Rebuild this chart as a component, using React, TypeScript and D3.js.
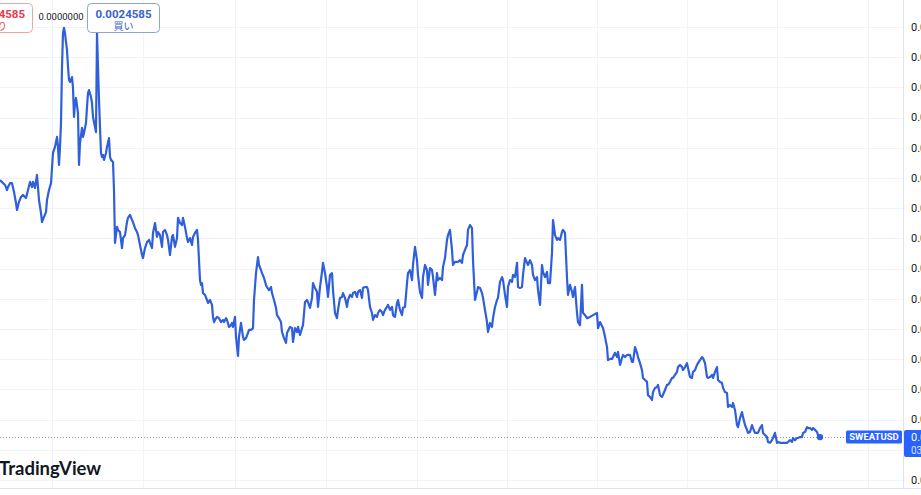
import React from 'react';
import * as d3 from 'd3';

// [day since start, close in USD]
const closes: [number, number][] = [
  [0, 0.003293], [5, 0.003277], [7, 0.00326], [8, 0.00327], [10, 0.003283], [12, 0.003283], [14, 0.003254],
  [16, 0.003217], [17, 0.003194], [19, 0.003221], [21, 0.003237], [23, 0.003244], [26, 0.003234], [28, 0.00326],
  [30, 0.003287], [32, 0.00327], [33, 0.003287], [35, 0.003267], [37, 0.00331], [38, 0.00327], [39, 0.003227],
  [41, 0.003184], [42, 0.003154], [44, 0.003171], [46, 0.003187], [47, 0.003227], [49, 0.00326], [51, 0.003283],
  [52, 0.003333], [53, 0.003383], [55, 0.003403], [57, 0.003436], [58, 0.003403], [59, 0.003343], [60, 0.003403],
  [61, 0.003482], [62, 0.003668], [63, 0.00378], [64, 0.003797], [65, 0.00378], [66, 0.00375], [67, 0.003724],
  [68, 0.003668], [69, 0.003625], [70, 0.003618], [72, 0.003634], [73, 0.003598], [74, 0.003502], [75, 0.003548],
  [76, 0.003565], [78, 0.003515], [79, 0.003343], [80, 0.003416], [82, 0.003466], [83, 0.003436], [84, 0.003449],
  [86, 0.003482], [87, 0.003535], [88, 0.003581], [89, 0.003591], [91, 0.003568], [92, 0.003548], [93, 0.003502],
  [95, 0.003469], [96, 0.003452], [97, 0.00378], [98, 0.003668], [99, 0.003558], [100, 0.003469], [101, 0.003383],
  [102, 0.00337], [103, 0.003376], [104, 0.00336], [106, 0.003383], [107, 0.003403], [109, 0.003432], [110, 0.00337],
  [111, 0.00336], [113, 0.003353], [114, 0.00326], [115, 0.003085], [117, 0.003138], [118, 0.003128], [120, 0.003121],
  [122, 0.003068], [123, 0.003101], [125, 0.003111], [127, 0.003154], [128, 0.003168], [130, 0.003178], [132, 0.003161],
  [133, 0.003154], [135, 0.003134], [137, 0.003121], [138, 0.003111], [140, 0.003078], [142, 0.003045], [143, 0.003035],
  [145, 0.003068], [147, 0.003088], [149, 0.003095], [150, 0.003085], [152, 0.003068], [153, 0.003118], [155, 0.003151],
  [157, 0.003105], [158, 0.003121], [160, 0.003111], [162, 0.003072], [163, 0.003121], [165, 0.003128], [167, 0.003111],
  [168, 0.003095], [170, 0.003045], [172, 0.003105], [173, 0.003111], [175, 0.003072], [177, 0.003101], [178, 0.003168],
  [180, 0.003151], [182, 0.003144], [183, 0.003168], [185, 0.003138], [187, 0.003101], [188, 0.003088], [190, 0.003101],
  [192, 0.003078], [193, 0.003105], [195, 0.003118], [197, 0.003128], [198, 0.003095], [199, 0.003028], [200, 0.002962],
  [201, 0.002946], [202, 0.002952], [203, 0.002919], [205, 0.002913], [207, 0.002896], [208, 0.002886], [210, 0.002896],
  [212, 0.00288], [213, 0.00284], [214, 0.002823], [216, 0.002836], [217, 0.00284], [219, 0.002836], [221, 0.002823],
  [223, 0.00283], [224, 0.002823], [226, 0.002836], [227, 0.00283], [229, 0.002807], [231, 0.002813], [232, 0.00282],
  [233, 0.002807], [235, 0.00284], [236, 0.002774], [238, 0.002711], [239, 0.002774], [241, 0.00282], [243, 0.002774],
  [244, 0.002764], [246, 0.00277], [248, 0.002787], [249, 0.002797], [251, 0.002797], [253, 0.002803], [254, 0.002896],
  [256, 0.002985], [258, 0.003038], [259, 0.003012], [261, 0.002995], [262, 0.002985], [264, 0.002969], [266, 0.002946],
  [267, 0.002939], [269, 0.002929], [271, 0.002939], [272, 0.002919], [274, 0.002896], [276, 0.00287], [277, 0.002846],
  [279, 0.002836], [281, 0.002823], [282, 0.00279], [284, 0.00277], [286, 0.002754], [287, 0.002787], [290, 0.002807],
  [292, 0.002803], [293, 0.002757], [295, 0.002803], [297, 0.00279], [298, 0.002807], [300, 0.00278], [302, 0.002803],
  [303, 0.002813], [305, 0.002889], [307, 0.002896], [308, 0.002889], [310, 0.00287], [312, 0.002903], [313, 0.002952],
  [315, 0.002936], [317, 0.002923], [318, 0.002873], [320, 0.002939], [322, 0.002989], [323, 0.003019], [325, 0.002985],
  [327, 0.002939], [328, 0.002906], [330, 0.002979], [332, 0.002985], [333, 0.002929], [335, 0.002853], [337, 0.002836],
  [338, 0.002863], [340, 0.002903], [342, 0.002906], [343, 0.002919], [345, 0.002903], [347, 0.002873], [348, 0.002896],
  [350, 0.002913], [352, 0.002906], [353, 0.002919], [355, 0.002923], [357, 0.002906], [358, 0.002923], [360, 0.002929],
  [362, 0.002903], [363, 0.002936], [365, 0.002939], [367, 0.002939], [368, 0.002929], [370, 0.002873], [372, 0.002853],
  [373, 0.00283], [375, 0.002846], [377, 0.00284], [378, 0.002853], [380, 0.002863], [382, 0.002856], [383, 0.002846],
  [385, 0.002863], [387, 0.002873], [388, 0.00288], [390, 0.002863], [392, 0.002873], [393, 0.002846], [395, 0.00284],
  [397, 0.002886], [398, 0.002896], [400, 0.002863], [402, 0.002846], [403, 0.00287], [405, 0.002873], [407, 0.002952],
  [408, 0.002985], [410, 0.002995], [412, 0.002962], [413, 0.003012], [415, 0.003072], [417, 0.003028], [418, 0.002979],
  [420, 0.002923], [422, 0.002903], [423, 0.002972], [425, 0.003012], [427, 0.002995], [428, 0.002946], [430, 0.003002],
  [432, 0.002995], [433, 0.002972], [435, 0.002913], [437, 0.002985], [438, 0.002962], [440, 0.002969], [442, 0.002962],
  [443, 0.003005], [445, 0.003035], [447, 0.003095], [448, 0.003111], [450, 0.003128], [452, 0.003062], [453, 0.003012],
  [455, 0.003022], [458, 0.003022], [460, 0.003028], [462, 0.003019], [463, 0.003045], [465, 0.003062], [467, 0.003078],
  [468, 0.003128], [470, 0.003144], [472, 0.003134], [473, 0.003028], [475, 0.002896], [477, 0.002923], [478, 0.002939],
  [480, 0.002936], [482, 0.002919], [483, 0.002903], [485, 0.002863], [487, 0.002823], [488, 0.00279], [490, 0.00282],
  [492, 0.002807], [493, 0.002836], [495, 0.002873], [497, 0.002896], [498, 0.002903], [500, 0.002956], [502, 0.002972],
  [503, 0.002962], [505, 0.002913], [507, 0.002873], [508, 0.002939], [510, 0.002962], [512, 0.002956], [513, 0.002979],
  [515, 0.002972], [517, 0.003019], [518, 0.002939], [520, 0.002936], [522, 0.002939], [523, 0.002979], [525, 0.003035],
  [527, 0.003019], [528, 0.003012], [530, 0.003028], [532, 0.003012], [533, 0.002979], [535, 0.002962], [537, 0.002972],
  [538, 0.002929], [540, 0.00288], [542, 0.003012], [543, 0.002989], [545, 0.002972], [547, 0.002989], [548, 0.002952],
  [550, 0.002952], [552, 0.003052], [553, 0.003161], [555, 0.003111], [557, 0.003095], [558, 0.003101], [560, 0.003095],
  [562, 0.003121], [563, 0.003128], [565, 0.003118], [567, 0.002969], [568, 0.002913], [570, 0.002946], [572, 0.002923],
  [573, 0.002906], [575, 0.002939], [577, 0.002853], [578, 0.002823], [580, 0.002813], [582, 0.002946], [583, 0.002853],
  [585, 0.002846], [587, 0.002836], [590, 0.00284], [593, 0.002846], [597, 0.002853], [598, 0.002803], [600, 0.002823],
  [603, 0.002803], [605, 0.002774], [607, 0.00274], [608, 0.002697], [610, 0.002701], [612, 0.002701], [615, 0.002721],
  [617, 0.002707], [618, 0.002724], [620, 0.002681], [622, 0.002704], [623, 0.002714], [625, 0.002707], [627, 0.002714],
  [630, 0.002714], [632, 0.002691], [633, 0.002691], [635, 0.00274], [637, 0.002721], [638, 0.002707], [640, 0.002687],
  [642, 0.002664], [643, 0.002638], [645, 0.002631], [647, 0.002625], [648, 0.002581], [650, 0.002575], [652, 0.002565],
  [653, 0.002591], [655, 0.002605], [657, 0.002608], [658, 0.002615], [660, 0.002581], [662, 0.002575], [665, 0.002598],
  [667, 0.002615], [668, 0.002615], [670, 0.002625], [672, 0.002638], [673, 0.002638], [677, 0.002658], [678, 0.002674],
  [680, 0.002681], [682, 0.002674], [683, 0.002664], [685, 0.002674], [687, 0.002687], [688, 0.002671], [690, 0.002641],
  [692, 0.002638], [693, 0.002658], [695, 0.002664], [697, 0.002681], [698, 0.002687], [700, 0.002697], [702, 0.002707],
  [703, 0.002704], [705, 0.002687], [707, 0.002641], [708, 0.002638], [710, 0.002641], [712, 0.002648], [713, 0.002638],
  [715, 0.002658], [717, 0.002674], [718, 0.002631], [720, 0.002625], [722, 0.002621], [723, 0.002605], [725, 0.002591],
  [727, 0.002588], [728, 0.002542], [730, 0.002548], [732, 0.002542], [733, 0.002555], [735, 0.002532], [737, 0.002482],
  [738, 0.002475], [740, 0.002505], [742, 0.002525], [743, 0.002509], [745, 0.002482], [747, 0.002466], [748, 0.002456],
  [750, 0.002459], [752, 0.002482], [753, 0.002472], [755, 0.002456], [758, 0.002456], [760, 0.002472], [762, 0.002482],
  [763, 0.002456], [765, 0.002449], [767, 0.002442], [768, 0.002426], [770, 0.002423], [772, 0.002432], [773, 0.002439],
  [775, 0.002456], [777, 0.002423], [778, 0.002426], [780, 0.002423], [783, 0.002423], [787, 0.002423], [788, 0.002426],
  [790, 0.002432], [792, 0.002426], [793, 0.002439], [795, 0.002432], [797, 0.002439], [798, 0.002439], [800, 0.002442],
  [802, 0.002442], [803, 0.002456], [805, 0.002459], [807, 0.002475], [808, 0.002472], [810, 0.002472], [812, 0.002466],
  [813, 0.002472], [815, 0.002466], [817, 0.002459], [818, 0.002449], [820, 0.002442],
];

const priceTicks = [
  0.0023, 0.0024, 0.0025, 0.0026, 0.0027, 0.0028, 0.0029, 0.003,
  0.0031, 0.0032, 0.0033, 0.0034, 0.0035, 0.0036, 0.0037, 0.0038,
];
// quarter boundaries, in days since start
const quarterDays = [52, 143, 235, 326, 417, 507, 597, 687, 777, 868];
const symbol = 'SWEATUSD';
const sellQuote = '0.0024585';
const buyQuote = '0.0024585';
const spread = '0.0000000';

const W = 921;
const H = 495;
const axisX = 903; // left edge of the price scale
const axisY = 488; // top edge of the time scale
const blue = '#2f5fdc';
const font = "Roboto, 'Noto Sans CJK JP', sans-serif";

const App: React.FC = () => {
  const x = d3.scaleLinear().domain([0, axisX]).range([0, axisX]);
  const y = d3.scaleLinear().domain([0.0023, 0.0038]).range([480, 27]);
  const line = d3
    .line<[number, number]>()
    .x((d) => x(d[0]))
    .y((d) => y(d[1]));

  const last = closes[closes.length - 1];
  const lastY = y(last[1]);

  return (
    <svg
      width={W}
      height={H}
      style={{ position: 'absolute', left: 0, top: 0, display: 'block', background: '#fff', fontFamily: font }}
    >
      {/* grid */}
      <g stroke="#f0f3fa" strokeWidth={1}>
        {priceTicks.map((t) => (
          <line key={t} x1={0} x2={axisX} y1={Math.round(y(t)) + 0.5} y2={Math.round(y(t)) + 0.5} />
        ))}
        {quarterDays.map((d) => (
          <line key={d} x1={Math.round(x(d)) + 0.5} x2={Math.round(x(d)) + 0.5} y1={0} y2={axisY} />
        ))}
      </g>
      <line x1={axisX + 0.5} x2={axisX + 0.5} y1={0} y2={axisY} stroke="#e0e3eb" />
      <line x1={0} x2={W} y1={axisY + 0.5} y2={axisY + 0.5} stroke="#e0e3eb" />

      {/* price scale labels */}
      <g fontSize={11} fill="#131722">
        {priceTicks
          .filter((t) => Math.abs(y(t) - lastY) > 14)
          .map((t) => (
            <text key={t} x={911} y={y(t)} dy="0.35em">
              {t.toFixed(7)}
            </text>
          ))}
      </g>

      {/* last price line */}
      <line x1={0} x2={axisX} y1={Math.round(lastY) + 0.5} y2={Math.round(lastY) + 0.5} stroke="#9598a1" strokeDasharray="1 2" />
      <path d={line(closes) ?? ''} fill="none" stroke={blue} strokeWidth={2.2} strokeLinejoin="round" />
      <circle cx={x(last[0])} cy={lastY} r={3.2} fill={blue} />

      {/* symbol + price tags */}
      <rect x={846} y={lastY - 6.5} width={56} height={13} rx={1.5} fill="#2962ff" />
      <text x={874} y={lastY} dy="0.35em" textAnchor="middle" fontSize={9.5} fontWeight={700} fill="#fff">
        {symbol}
      </text>
      <rect x={axisX + 1} y={lastY - 7} width={30} height={27} rx={2} fill="#2962ff" />
      <text x={911} y={lastY} dy="0.35em" fontSize={11} fill="#fff">
        {last[1].toFixed(7)}
      </text>
      <text x={911} y={lastY + 13} dy="0.35em" fontSize={10} fill="#dbe4ff">
        03:14:52
      </text>

      {/* buy / sell buttons */}
      <rect x={-40.5} y={3.5} width={73} height={29} rx={4} fill="#fff" stroke="#eea3a9" />
      <text x={-3} y={14} dy="0.35em" textAnchor="middle" fontSize={11.5} fontWeight={700} fill="#e8394a">
        {sellQuote}
      </text>
      <text x={-3} y={26} dy="0.35em" textAnchor="middle" fontSize={10} fill="#e8394a">
        売り
      </text>
      <text x={61} y={17} dy="0.35em" textAnchor="middle" fontSize={9.5} fill="#131722">
        {spread}
      </text>
      <rect x={87.5} y={3.5} width={72} height={29} rx={4} fill="#fff" stroke="#8da3d6" />
      <text x={123.5} y={14} dy="0.35em" textAnchor="middle" fontSize={11.5} fontWeight={700} fill="#3a62c8">
        {buyQuote}
      </text>
      <text x={123.5} y={26} dy="0.35em" textAnchor="middle" fontSize={10} fill="#3a62c8">
        買い
      </text>

      {/* watermark */}
      <text x={-1} y={475} fontSize={18.5} fontWeight={700} fill="#131722" fontFamily="Lato, sans-serif">
        TradingView
      </text>
    </svg>
  );
};

export default App;
